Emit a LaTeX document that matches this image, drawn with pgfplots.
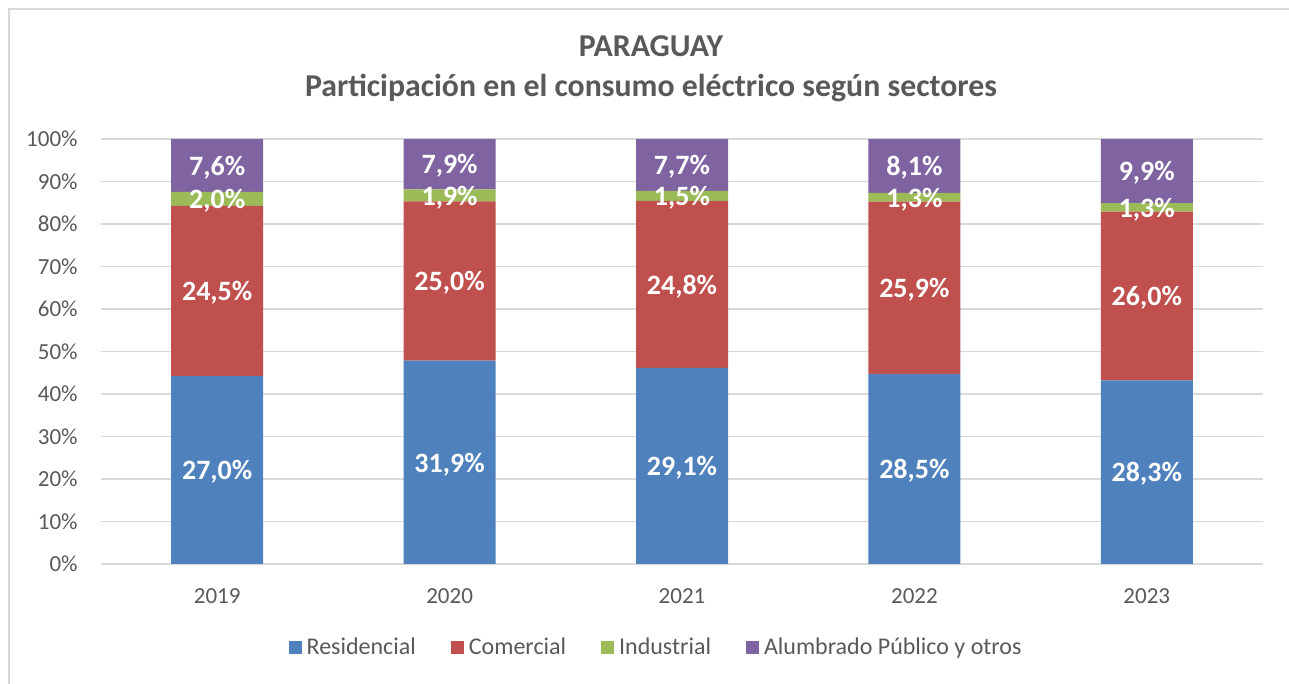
\documentclass[border=0pt]{standalone}
\usepackage{pgfplots}
\pgfplotsset{compat=1.18}
\usepackage{pgfplotstable}
\usepackage{fontspec}
\setmainfont{Carlito}
\definecolor{cRes}{HTML}{4F81BD}
\definecolor{cCom}{HTML}{C0504D}
\definecolor{cInd}{HTML}{9BBB59}
\definecolor{cAlu}{HTML}{8064A2}
\definecolor{txt}{HTML}{595959}
\definecolor{grd}{HTML}{D9D9D9}

% x: year index; r,c,i,a: share of each sector in the 100% stack; rl..al: data labels
\pgfplotstableread{
x r c i a rl cl il al
0 44.19 40.10 3.27 12.44 27,0 24,5 2,0 7,6
1 47.83 37.48 2.85 11.84 31,9 25,0 1,9 7,9
2 46.12 39.30 2.38 12.20 29,1 24,8 1,5 7,7
3 44.67 40.60 2.04 12.69 28,5 25,9 1,3 8,1
4 43.21 39.70 1.98 15.11 28,3 26,0 1,3 9,9
}\datatable

\begin{document}
\begin{tikzpicture}
\useasboundingbox (0,0) rectangle (644.5pt,342pt);
\draw[grd, line width=0.75pt] (4.5pt,-1pt) -- (4.5pt,337.5pt) -- (646pt,337.5pt);
\node[anchor=base, text=txt, font=\fontsize{15.9pt}{18pt}\selectfont\bfseries] at (325.5pt,313.5pt) {PARAGUAY};
\node[anchor=base, text=txt, font=\fontsize{15.9pt}{18pt}\selectfont\bfseries] at (325.5pt,293.5pt) {Participación en el consumo eléctrico según sectores};
\begin{axis}[
  at={(50.5pt,60pt)}, anchor=south west,
  scale only axis, width=581pt, height=212.5pt,
  ybar stacked, bar width=46pt,
  xmin=-0.5, xmax=4.5, ymin=0, ymax=100,
  xtick={0,1,2,3,4}, xticklabels={2019,2020,2021,2022,2023},
  ytick={0,10,20,30,40,50,60,70,80,90,100},
  yticklabels={0\%,10\%,20\%,30\%,40\%,50\%,60\%,70\%,80\%,90\%,100\%},
  major tick length=0pt,
  axis line style={draw=none},
  ymajorgrids, major grid style={grd, line width=0.75pt},
  yticklabel style={anchor=east, inner sep=0pt, xshift=-11.5pt, text=txt, font=\fontsize{11.5pt}{13pt}\selectfont},
  xticklabel style={anchor=base, inner sep=0pt, yshift=-20pt, text=txt, font=\fontsize{11.5pt}{13pt}\selectfont},
  point meta=explicit symbolic,
  nodes near coords={\pgfplotspointmeta\%},
  every node near coord/.append style={anchor=center, yshift=-1pt, text=white, font=\fontsize{14pt}{16pt}\selectfont\bfseries},
  legend columns=4,
  legend style={at={(0.479,-0.1976)}, anchor=center, draw=none, fill=none,
    font=\fontsize{12pt}{14pt}\selectfont, text=txt,
    /tikz/every even column/.append style={column sep=15pt},
    nodes={inner sep=2.5pt}},
  sq/.style={legend image code/.code={\fill[##1] (0pt,-3.25pt) rectangle (6.5pt,3.25pt);}},
]
\addplot[fill=cRes, draw=none, sq] table[x=x, y=r, meta=rl] {\datatable};
\addplot[fill=cCom, draw=none, sq] table[x=x, y=c, meta=cl] {\datatable};
\addplot[fill=cInd, draw=none, sq] table[x=x, y=i, meta=il] {\datatable};
\addplot[fill=cAlu, draw=none, sq] table[x=x, y=a, meta=al] {\datatable};
\legend{Residencial, Comercial, Industrial, Alumbrado Público y otros}
\end{axis}
\end{tikzpicture}
\end{document}
